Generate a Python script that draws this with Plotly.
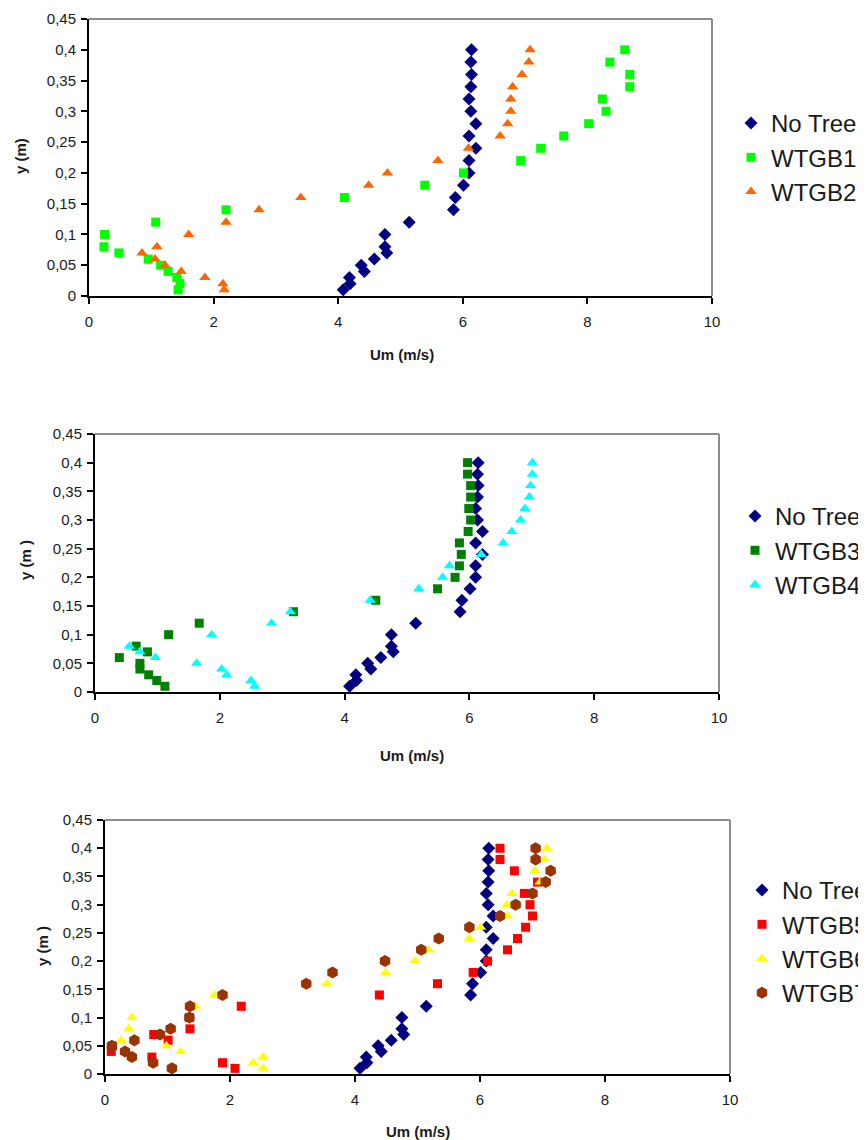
import plotly.graph_objects as go

# ---------------- data ----------------
y_levels = [0.01, 0.02, 0.03, 0.04, 0.05, 0.06, 0.07, 0.08, 0.10, 0.12, 0.14, 0.16,
            0.18, 0.20, 0.22, 0.24, 0.26, 0.28, 0.30, 0.32, 0.34, 0.36, 0.38, 0.40]

no_tree_x = [4.08, 4.19, 4.18, 4.42, 4.37, 4.58, 4.78, 4.75, 4.75, 5.14, 5.85, 5.88,
             6.01, 6.10, 6.10, 6.21, 6.10, 6.21, 6.13, 6.10, 6.13, 6.14, 6.13, 6.14]
no_tree_y = y_levels

wtgb1_x = [1.43, 1.46, 1.41, 1.27, 1.15, 0.95, 0.48, 0.24, 0.25, 1.07, 2.20, 4.10,
           5.39, 6.01, 6.93, 7.25, 7.62, 8.02, 8.30, 8.24, 8.68, 8.68, 8.36, 8.60]
wtgb1_y = y_levels

wtgb2_x = [2.17, 2.15, 1.86, 1.48, 1.22, 1.06, 0.85, 1.09, 1.60, 2.20, 2.73, 3.40,
           4.49, 4.79, 5.60, 6.09, 6.60, 6.72, 6.77, 6.77, 6.80, 6.95, 7.06, 7.08]
wtgb2_y = y_levels

wtgb3_x = [1.12, 0.99, 0.86, 0.72, 0.72, 0.39, 0.84, 0.66, 1.18, 1.67, 3.18, 4.50,
           5.49, 5.77, 5.84, 5.87, 5.84, 5.98, 6.02, 5.99, 6.02, 6.02, 5.97, 5.97]
wtgb3_y = y_levels

wtgb4_x = [2.56, 2.50, 2.11, 2.03, 1.63, 0.97, 0.72, 0.55, 1.87, 2.83, 3.13, 4.41,
           5.19, 5.57, 5.68, 6.19, 6.54, 6.68, 6.82, 6.89, 6.96, 6.98, 7.01, 7.01]
wtgb4_y = y_levels

wtgb5_x = [2.08, 1.88, 0.75, 0.10, 0.12, 1.01, 0.78, 1.36, 1.35, 2.18, 4.39, 5.32,
           5.89, 6.12, 6.44, 6.60, 6.73, 6.84, 6.80, 6.71, 6.92, 6.55, 6.32, 6.32]
wtgb5_y = y_levels

wtgb6_x = [2.53, 2.37, 2.53, 1.21, 0.98, 0.26, 0.38, 0.43, 1.45, 1.75, 3.55, 4.49,
           4.96, 5.18, 5.83, 6.01, 6.44, 6.43, 6.51, 6.96, 6.88, 7.03, 7.07]
wtgb6_y = [0.01, 0.02, 0.03, 0.04, 0.05, 0.06, 0.08, 0.10, 0.12, 0.14, 0.16, 0.18,
           0.20, 0.22, 0.24, 0.26, 0.28, 0.30, 0.32, 0.34, 0.36, 0.38, 0.40]

wtgb7_x = [1.07, 0.77, 0.43, 0.32, 0.11, 0.47, 0.88, 1.05, 1.35, 1.36, 1.88, 3.22,
           3.64, 4.48, 5.06, 5.34, 5.83, 6.32, 6.57, 6.84, 7.05, 7.13, 6.89, 6.89]
wtgb7_y = y_levels

x_tick_vals = [0, 2, 4, 6, 8, 10]
x_tick_text = ["0", "2", "4", "6", "8", "10"]
y_tick_vals = [0, 0.05, 0.1, 0.15, 0.2, 0.25, 0.3, 0.35, 0.4, 0.45]
y_tick_text = ["0", "0,05", "0,1", "0,15", "0,2", "0,25", "0,3", "0,35", "0,4", "0,45"]

x_titles = ["Um (m/s)", "Um (m/s)", "Um (m/s)"]
y_titles = ["y (m)", "y (m )", "y (m )"]

# ---------------- layout geometry (screen pixels) ----------------
PAGE_OFFSET = 8  # default body margin of the html page
W, H = 866 - PAGE_OFFSET, 1140 - PAGE_OFFSET  # figure fills the window exactly
FONT = "Liberation Sans, Arial, sans-serif"
TXT = "#1a1a1a"

# plot areas: (left, right, top, bottom) in screen px
areas = [(89, 712, 19, 296), (95, 719, 434, 692), (105, 730, 820, 1074)]
legend_pos = [(731, 101), (735, 494), (742, 868)]
xtitle_pos = [(402, 355), (412, 755), (418, 1131)]
ytitle_pos = [(20, 156), (25, 560), (42, 946)]


def px_x(v):
    return (v - PAGE_OFFSET) / W


def px_y(v):
    return 1 - (v - PAGE_OFFSET) / H


series = [
    # panel, name, x, y, color, symbol, size
    (1, "No Tree", no_tree_x, no_tree_y, "#000080", "diamond", 10),
    (1, "WTGB1", wtgb1_x, wtgb1_y, "#00FF00", "square", 9),
    (1, "WTGB2", wtgb2_x, wtgb2_y, "#FF6600", "triangle-up", 10),
    (2, "No Tree", no_tree_x, no_tree_y, "#000080", "diamond", 10),
    (2, "WTGB3", wtgb3_x, wtgb3_y, "#008000", "square", 9),
    (2, "WTGB4", wtgb4_x, wtgb4_y, "#00FFFF", "triangle-up", 10),
    (3, "No Tree", no_tree_x, no_tree_y, "#000080", "diamond", 10),
    (3, "WTGB5", wtgb5_x, wtgb5_y, "#FF0000", "square", 9),
    (3, "WTGB6", wtgb6_x, wtgb6_y, "#FFFF00", "triangle-up", 10),
    (3, "WTGB7", wtgb7_x, wtgb7_y, "#993300", "hexagon", 12),
]

fig = go.Figure()
for panel, name, xs, ys, color, symbol, size in series:
    sfx = "" if panel == 1 else str(panel)
    fig.add_trace(go.Scatter(
        x=xs, y=ys, mode="markers", name=name,
        xaxis="x" + sfx, yaxis="y" + sfx,
        legend="legend" + sfx,
        marker=dict(color=color, symbol=symbol, size=size, line=dict(width=0)),
    ))

layout = dict(
    width=W, height=H,
    margin=dict(l=0, r=0, t=0, b=0, pad=0, autoexpand=False),
    paper_bgcolor="white", plot_bgcolor="white",
    font=dict(family=FONT, color=TXT, size=15),
    showlegend=True,
)

shapes = []
annotations = []
for i, (l, r, t, b) in enumerate(areas):
    sfx = "" if i == 0 else str(i + 1)
    layout["xaxis" + sfx] = dict(
        domain=[px_x(l), px_x(r)], anchor="y" + sfx, range=[0, 10],
        tickmode="array", tickvals=x_tick_vals, ticktext=x_tick_text,
        showline=True, linecolor="black", linewidth=2, mirror=False,
        ticks="outside", ticklen=6, tickwidth=2, tickcolor="black",
        showgrid=False, zeroline=False, ticklabelstandoff=5,
        tickfont=dict(family=FONT, size=15, color=TXT),
        automargin=False,
    )
    layout["yaxis" + sfx] = dict(
        domain=[px_y(b), px_y(t)], anchor="x" + sfx, range=[0, 0.45],
        tickmode="array", tickvals=y_tick_vals, ticktext=y_tick_text,
        showline=True, linecolor="black", linewidth=2, mirror=False,
        ticks="outside", ticklen=6, tickwidth=2, tickcolor="black",
        showgrid=False, zeroline=False, ticklabelstandoff=2,
        tickfont=dict(family=FONT, size=15, color=TXT),
        automargin=False,
    )
    # grey top and right frame lines
    shapes.append(dict(type="line", xref="x" + sfx + " domain", yref="y" + sfx + " domain",
                       x0=0, x1=1, y0=1, y1=1, line=dict(color="#8c8c8c", width=2)))
    shapes.append(dict(type="line", xref="x" + sfx + " domain", yref="y" + sfx + " domain",
                       x0=1, x1=1, y0=0, y1=1, line=dict(color="#8c8c8c", width=2)))
    lx, ly = legend_pos[i]
    layout["legend" + sfx] = dict(
        x=px_x(lx), y=px_y(ly), xanchor="left", yanchor="top",
        xref="paper", yref="paper",
        bgcolor="rgba(0,0,0,0)", borderwidth=0,
        font=dict(family=FONT, size=24, color=TXT),
        itemwidth=30,
    )
    tx, ty = xtitle_pos[i]
    annotations.append(dict(text="<b>" + x_titles[i] + "</b>", x=px_x(tx), y=px_y(ty),
                            xref="paper", yref="paper", showarrow=False,
                            xanchor="center", yanchor="middle",
                            font=dict(family=FONT, size=15, color=TXT)))
    yx, yy = ytitle_pos[i]
    annotations.append(dict(text="<b>" + y_titles[i] + "</b>", x=px_x(yx), y=px_y(yy),
                            xref="paper", yref="paper", showarrow=False, textangle=-90,
                            xanchor="center", yanchor="middle",
                            font=dict(family=FONT, size=15, color=TXT)))

layout["shapes"] = shapes
layout["annotations"] = annotations
fig.update_layout(**layout)

fig.write_html("out.html")
